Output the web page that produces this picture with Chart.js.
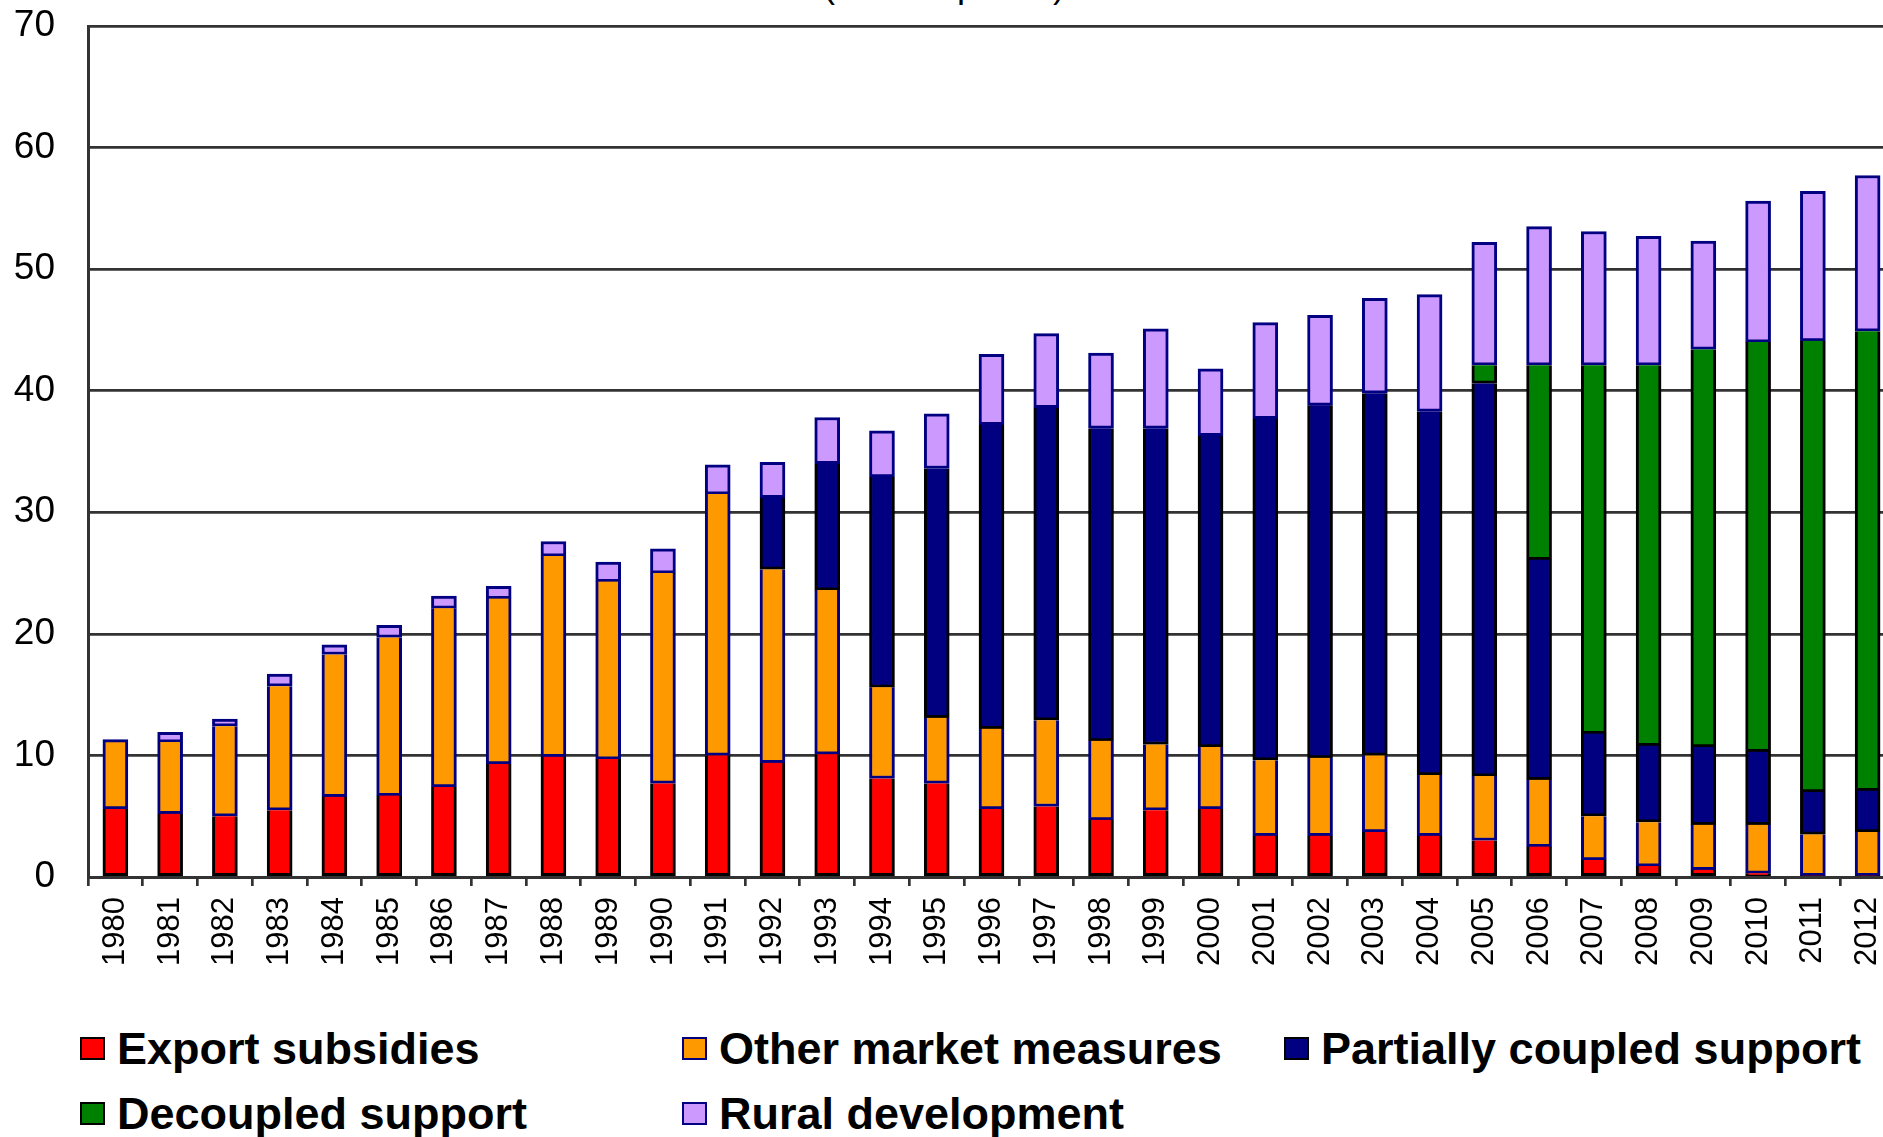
<!DOCTYPE html>
<html>
<head>
<meta charset="utf-8">
<script src="https://cdn.jsdelivr.net/npm/chart.js@4.4.0/dist/chart.umd.min.js"></script>
<style>
html,body{margin:0;padding:0;width:1883px;height:1137px;overflow:hidden;background:#fff;}
#wrap{position:absolute;left:0;top:0;width:1895px;height:1000px;}
#subtitle{position:absolute;top:-33px;left:0;width:1888px;text-align:center;font:36px/36px "Liberation Sans",Arial,sans-serif;color:#000;white-space:nowrap;}
.leg{position:absolute;font:bold 45px/45px "Liberation Sans",Arial,sans-serif;color:#000;white-space:nowrap;}
.leg i{position:absolute;left:0;top:11px;width:21px;height:19px;border:2px solid #000;}
.leg span{position:absolute;left:37px;top:0;}
</style>
</head>
<body>
<div id="subtitle">(current prices)</div>
<div id="wrap"><canvas id="c" width="1895" height="1000"></canvas></div>
<div id="legend"></div>
<script>
const years = ['1980','1981','1982','1983','1984','1985','1986','1987','1988','1989','1990','1991','1992','1993','1994','1995','1996','1997','1998','1999','2000','2001','2002','2003','2004','2005','2006','2007','2008','2009','2010','2011','2012'];
const seriesLabels = ['Export subsidies','Other market measures','Partially coupled support','Decoupled support','Rural development'];
const exportSubsidies = [5.6,5.2,5.0,5.5,6.6,6.7,7.4,9.3,9.9,9.7,7.7,10.0,9.4,10.1,8.1,7.7,5.6,5.8,4.7,5.5,5.6,3.4,3.4,3.7,3.4,3.0,2.5,1.4,0.9,0.6,0.3,0.1,0.1];
const otherMarket = [5.7,5.9,7.4,10.2,11.7,13.0,14.7,13.6,16.5,14.6,17.3,21.5,15.9,13.5,7.5,5.4,6.6,7.1,6.5,5.4,5.1,6.2,6.4,6.3,5.0,5.3,5.5,3.6,3.6,3.7,4.0,3.4,3.6];
const partiallyCoupled = [null,null,null,null,null,null,null,null,null,null,null,null,5.9,10.4,17.3,20.5,25.0,25.7,25.7,26.0,25.6,28.1,29.0,29.8,29.9,32.3,18.1,6.8,6.3,6.4,6.0,3.5,3.4];
const decoupled = [null,null,null,null,null,null,null,null,null,null,null,null,null,null,null,null,null,null,null,null,null,null,null,null,null,1.5,16.0,30.3,31.3,32.7,33.7,37.1,37.8];
const ruralDev = [0,0.8,0.6,1.0,0.8,1.0,1.0,1.0,1.2,1.6,2.0,2.4,2.9,3.8,3.8,4.5,5.8,6.1,6.2,8.2,5.5,7.9,7.4,7.8,9.6,10.1,11.4,11.0,10.6,8.9,11.6,12.3,12.8];
const yTicks = [0,10,20,30,40,50,60,70];

const fills = ['#FF0000','#FF9900','#000080','#008000','#CC99FF'];
const edges = ['#000000','#000080','#000000','#000000','#000080'];
const values = [exportSubsidies, otherMarket, partiallyCoupled, decoupled, ruralDev];

const FONT = '"Liberation Sans", Arial, sans-serif';
const GRID = '#333333';

// a segment keeps its top edge only if nothing is stacked above it
function skipFor(dsIndex) {
  return (ctx) => {
    const i = ctx.dataIndex;
    for (let k = dsIndex + 1; k < values.length; k++) {
      if (values[k][i]) return 'end';
    }
    return false;
  };
}

const datasets = values.map((v, i) => ({
  label: seriesLabels[i],
  data: v,
  backgroundColor: fills[i],
  borderColor: edges[i],
  borderWidth: 3,
  borderSkipped: skipFor(i),
  barThickness: 25
}));

new Chart(document.getElementById('c'), {
  type: 'bar',
  data: { labels: years, datasets },
  options: {
    responsive: false,
    animation: false,
    layout: { padding: { top: 26, left: 0, right: 0, bottom: 0 } },
    plugins: { legend: { display: false }, tooltip: { enabled: false }, title: { display: false } },
    scales: {
      x: {
        stacked: true,
        offset: true,
        grid: { display: true, offset: true, drawOnChartArea: false, drawTicks: true, tickLength: 9, color: GRID, lineWidth: 2.7 },
        border: { display: true, color: GRID, width: 3 },
        ticks: { minRotation: 90, maxRotation: 90, autoSkip: false, padding: 11, color: '#000', font: { family: FONT, size: 31 } },
        afterFit(s) { s.height = 123; s.paddingLeft = 0; s.paddingRight = 0; }
      },
      y: {
        stacked: true,
        min: yTicks[0],
        max: yTicks[yTicks.length - 1],
        afterBuildTicks(s) { s.ticks = yTicks.map(v => ({ value: v })); },
        ticks: { padding: 33, color: '#000', font: { family: FONT, size: 37 } },
        grid: { color: GRID, lineWidth: 2.7, drawTicks: false },
        border: { display: true, color: GRID, width: 3 },
        afterFit(s) { s.width = 88; s.paddingTop = 0; s.paddingBottom = 0; }
      }
    }
  }
});

const legendPos = [[80,1026],[682,1026],[1284,1026],[80,1091],[682,1091]];
const legendEl = document.getElementById('legend');
seriesLabels.forEach((lab, i) => {
  const d = document.createElement('div');
  d.className = 'leg';
  d.style.left = legendPos[i][0] + 'px';
  d.style.top = legendPos[i][1] + 'px';
  const b = document.createElement('i');
  b.style.background = fills[i];
  b.style.borderColor = edges[i];
  const t = document.createElement('span');
  t.textContent = lab;
  d.appendChild(b); d.appendChild(t);
  legendEl.appendChild(d);
});
</script>
</body>
</html>
